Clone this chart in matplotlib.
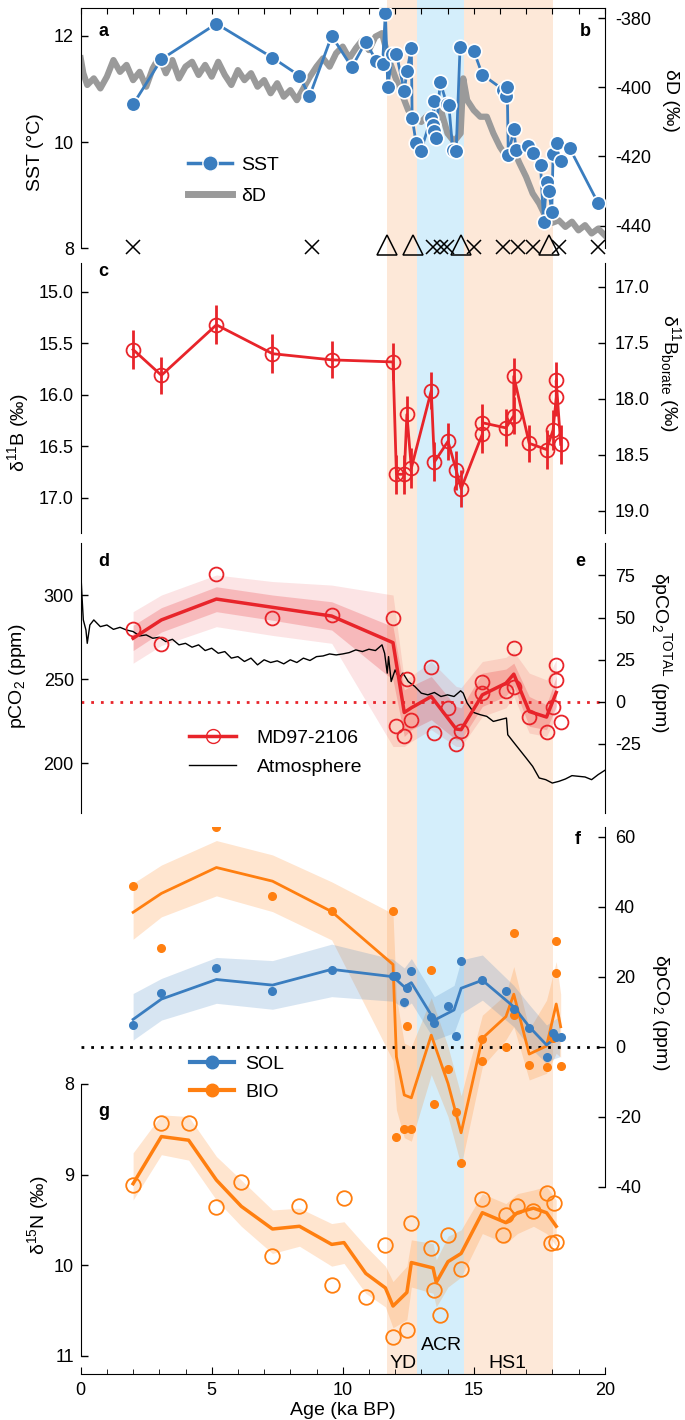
import numpy as np
import matplotlib
matplotlib.use("Agg")
import matplotlib.pyplot as plt
from matplotlib.lines import Line2D
from matplotlib.ticker import FormatStrFormatter

plt.rcParams['font.family'] = ['Liberation Sans', 'DejaVu Sans']
plt.rcParams['mathtext.fontset'] = 'custom'
plt.rcParams['mathtext.rm'] = 'Liberation Sans'
plt.rcParams['mathtext.it'] = 'Liberation Sans:italic'
plt.rcParams['mathtext.bf'] = 'Liberation Sans:bold'
plt.rcParams['axes.unicode_minus'] = False

# ---------------- data ----------------
# a: SST
sst_age = [2.0, 3.08, 5.18, 7.32, 8.35, 8.73, 9.58, 10.35, 10.88, 11.28, 11.52, 11.63, 11.72, 11.9,
           12.05, 12.35, 12.45, 12.62, 12.65, 12.8, 12.98, 13.38, 13.45, 13.48, 13.5, 13.55, 13.72,
           13.98, 14.05, 14.2, 14.33, 14.48, 15.0, 15.33, 16.12, 16.23, 16.28, 16.32, 16.53, 16.62,
           17.07, 17.28, 17.55, 17.67, 17.78, 17.87, 17.98, 18.03, 18.17, 18.33, 18.67, 19.75]
sst = [10.71, 11.56, 12.23, 11.59, 11.25, 10.86, 12.0, 11.41, 11.89, 11.53, 11.47, 12.44, 11.04, 11.66,
       11.66, 10.96, 11.33, 11.77, 10.46, 9.99, 9.83, 10.46, 10.33, 10.77, 10.21, 10.08, 11.13,
       10.71, 10.7, 9.86, 9.83, 11.8, 11.72, 11.27, 10.99, 10.86, 11.04, 9.75, 10.24, 9.85,
       9.93, 9.79, 9.57, 8.49, 9.24, 9.08, 8.69, 9.77, 9.98, 9.64, 9.88, 8.85]

# b: dD ice core
dd_age = [0.0, 0.1, 0.25, 0.5, 0.75, 1.0, 1.25, 1.5, 1.75, 2.0, 2.25, 2.5, 2.75, 3.0, 3.25, 3.5,
          3.75, 4.0, 4.25, 4.5, 4.75, 5.0, 5.25, 5.5, 5.75, 6.0, 6.25, 6.5, 6.75, 7.0, 7.25, 7.5,
          7.75, 8.0, 8.25, 8.5, 8.75, 9.0, 9.25, 9.5, 9.75, 10.0, 10.25, 10.5, 10.75, 11.0, 11.25,
          11.5, 11.75, 12.0, 12.25, 12.5, 12.75, 13.0, 13.25, 13.5, 13.75, 14.0, 14.25, 14.5, 14.6,
          14.75, 15.0, 15.25, 15.5, 15.75, 16.0, 16.25, 16.5, 16.75, 17.0, 17.25, 17.5, 17.75, 18.0,
          18.25, 18.5, 18.75, 19.0, 19.25, 19.5, 19.75, 20.0]
dd = [-391.6, -395.9, -399.3, -397.4, -400.3, -396.9, -392.1, -395.5, -393.5, -397.9, -395.5,
      -399.8, -394.5, -391.1, -395.9, -392.1, -397.4, -394.0, -392.6, -396.4, -393.5, -396.9,
      -392.6, -396.4, -399.3, -395.0, -397.9, -395.9, -399.8, -397.9, -401.7, -398.8, -402.7,
      -400.8, -403.7, -400.3, -396.9, -394.0, -391.6, -394.0, -390.1, -388.2, -391.6, -388.7,
      -386.3, -389.2, -385.3, -384.3, -391.6, -396.9, -401.7, -406.6, -409.0, -410.0, -408.0,
      -411.4, -406.6, -413.3, -415.7, -413.3, -397.4, -403.7, -406.6, -408.5, -408.5, -413.3,
      -417.2, -420.1, -417.7, -422.0, -425.9, -430.7, -433.6, -437.5, -439.2, -438.5, -440.4,
      -438.9, -441.4, -439.9, -442.3, -440.9, -442.8]

cross_age = [2.0, 8.83, 13.45, 13.75, 13.98, 15.03, 16.12, 16.7, 17.28, 18.25, 19.75]
tri_age = [11.7, 12.7, 14.5, 17.87]

# c: d11B
b_age = [2.0, 3.08, 5.18, 7.32, 9.58, 11.92, 12.05, 12.35, 12.45, 12.62, 13.38, 13.5, 14.02,
         14.33, 14.52, 15.33, 15.33, 16.23, 16.53, 16.53, 17.12, 17.78, 18.03, 18.15, 18.15, 18.32]
d11b = [15.56, 15.81, 15.32, 15.60, 15.66, 15.68, 16.77, 16.77, 16.19, 16.71, 15.96, 16.65, 16.45,
        16.73, 16.91, 16.38, 16.27, 16.32, 16.20, 15.82, 16.47, 16.53, 16.34, 16.02, 15.86, 16.48]
d11b_err = [0.19, 0.18, 0.19, 0.19, 0.18, 0.18, 0.19, 0.19, 0.18, 0.19, 0.18, 0.19, 0.18,
            0.19, 0.18, 0.18, 0.18, 0.18, 0.18, 0.18, 0.18, 0.19, 0.19, 0.18, 0.18, 0.19]

# d: pCO2
pco2 = [279.8, 270.8, 312.3, 286.6, 288.1, 286.2, 221.9, 216.4, 250.2, 225.5, 257.5, 218.0, 232.6,
        211.5, 219.0, 241.7, 248.6, 242.9, 245.1, 268.4, 227.5, 218.6, 233.2, 249.6, 258.5, 224.5]
pl_age = [2.0, 3.08, 5.18, 7.32, 9.58, 11.92, 12.35, 12.62, 13.38, 14.33, 14.52, 15.33, 16.23,
          16.53, 17.12, 17.78, 18.15]
pco2_line = [274.3, 285.2, 297.6, 292.7, 287.5, 271.7, 230.2, 233.0, 239.7, 220.4, 220.0, 240.7,
             247.6, 253.0, 230.8, 227.5, 242.1]
pco2_o_hi = [290.1, 300.0, 311.9, 308.0, 305.9, 300.0, 249.6, 252.0, 260.5, 245.7, 245.0, 260.5,
             263.0, 266.4, 253.6, 249.6, 261.5]
pco2_o_lo = [259.5, 270.0, 281.2, 276.0, 271.3, 210.0, 210.0, 213.0, 220.0, 210.0, 210.0, 227.9,
             233.0, 239.7, 218.0, 216.0, 227.9]
pco2_i_hi = [282.0, 292.5, 304.9, 300.0, 296.0, 281.2, 243.7, 246.0, 251.6, 233.8, 233.0, 253.6,
             256.0, 259.5, 239.7, 234.8, 251.6]
pco2_i_lo = [267.0, 278.0, 290.1, 285.0, 279.2, 249.6, 216.0, 220.0, 225.9, 214.0, 214.0, 233.8,
             240.0, 245.7, 222.0, 220.0, 233.8]
pco2_zero = 236.6

atm_age = [0.0, 0.05, 0.1, 0.2, 0.25, 0.35, 0.5, 0.75, 1.0, 1.25, 1.5, 1.75, 2.0, 2.25, 2.5, 2.75,
           3.0, 3.25, 3.5, 3.75, 4.0, 4.25, 4.5, 4.75, 5.0, 5.25, 5.5, 5.75, 6.0, 6.25, 6.5, 6.75,
           7.0, 7.25, 7.5, 7.75, 8.0, 8.25, 8.5, 8.75, 9.0, 9.25, 9.5, 9.75, 10.0, 10.25, 10.5,
           10.75, 11.0, 11.25, 11.5, 11.6, 11.7, 11.75, 11.85, 12.0, 12.15, 12.3, 12.5, 12.75, 13.0,
           13.25, 13.5, 13.75, 14.0, 14.25, 14.5, 14.6, 14.75, 15.0, 15.25, 15.5, 15.75, 16.0,
           16.25, 16.3, 16.5, 16.75, 17.0, 17.25, 17.5, 17.75, 18.0, 18.25, 18.5, 18.75, 19.0,
           19.25, 19.5, 19.75, 20.0]
atm = [314.8, 299.0, 285.2, 279.2, 271.3, 282.2, 285.2, 281.2, 282.2, 279.6, 280.8, 279.2, 278.3,
       275.7, 276.3, 274.3, 274.9, 272.3, 273.7, 270.4, 271.3, 269.0, 270.4, 267.0, 268.4, 265.4,
       266.4, 262.5, 263.4, 260.5, 262.5, 258.5, 261.5, 259.9, 260.9, 259.1, 261.5, 259.9, 262.5,
       261.1, 263.4, 263.8, 265.0, 264.4, 265.0, 265.8, 267.4, 266.4, 267.8, 267.0, 270.4, 265.4,
       253.6, 263.4, 248.6, 255.5, 250.6, 253.6, 248.6, 245.7, 241.7, 240.7, 242.1, 239.7, 240.7,
       239.7, 243.1, 241.7, 235.8, 230.2, 228.9, 227.9, 224.9, 225.9, 226.9, 217.0, 213.0, 208.1,
       203.2, 198.2, 191.3, 190.3, 188.3, 189.3, 190.7, 192.7, 192.3, 191.9, 190.3, 193.3, 195.8]

# f: SOL / BIO
sol_age = [2.0, 3.08, 5.18, 7.32, 9.58, 11.92, 12.05, 12.35, 12.45, 12.62, 13.38, 13.5, 14.02,
           14.33, 14.52, 15.33, 16.23, 16.53, 17.12, 17.78, 18.03, 18.15, 18.32]
sol = [6.2, 15.4, 22.6, 16.0, 21.9, 20.3, 20.3, 12.7, 16.9, 21.7, 8.4, 6.7, 11.7, 3.0, 24.6, 19.0,
       16.0, 10.7, 5.4, -2.9, 4.0, 2.9, 2.9]
sol_l_age = [2.0, 3.08, 5.18, 7.32, 9.58, 11.92, 12.35, 12.62, 13.5, 14.25, 14.52, 15.33, 16.53,
             17.12, 17.78, 18.03, 18.28]
sol_line = [7.8, 13.6, 19.2, 17.6, 22.1, 20.0, 17.1, 18.3, 7.6, 10.5, 16.7, 19.0, 11.4, 5.7, 0.5,
            1.9, 2.7]
sol_hi = [15.2, 19.5, 25.5, 24.6, 29.3, 25.0, 22.5, 25.2, 14.3, 17.5, 24.8, 26.2, 17.5, 12.0, 6.2,
          7.5, 8.6]
sol_lo = [1.9, 7.6, 12.4, 10.7, 14.3, 13.0, 11.0, 12.5, 1.9, 4.0, 9.5, 13.3, 5.7, 0.0, -4.8, -3.5,
          -2.9]

bio = [46.0, 28.3, 62.9, 43.1, 38.8, 38.8, -25.9, -23.5, 6.0, -23.5, 21.9, -16.4, -6.5, -18.6,
       -33.3, 2.1, -4.1, -0.2, 9.0, 32.6, -5.2, -5.9, 2.4, 21.0, 30.3, -5.4]
bio_l_age = [2.0, 3.08, 5.18, 7.32, 9.58, 11.92, 12.05, 12.35, 12.62, 13.38, 14.02, 14.52, 15.33,
             16.23, 16.53, 17.12, 17.78, 18.15, 18.32]
bio_line = [38.4, 43.8, 51.2, 47.3, 38.6, 23.5, -2.9, -13.8, -14.6, 3.3, -10.5, -24.6, 2.4, 8.6,
            15.0, -2.1, 0.2, 12.2, 5.7]
bio_hi = [46.7, 51.9, 58.9, 54.8, 47.1, 38.0, 14.0, 1.0, 0.0, 14.0, 0.0, -14.0, 9.0, 15.0, 22.9,
          5.0, 13.3, 24.3, 15.0]
bio_lo = [30.7, 37.1, 43.1, 38.6, 30.5, -4.0, -18.0, -26.0, -27.0, -8.0, -20.0, -34.0, -5.7, 2.0,
          5.7, -9.5, -7.6, -1.9, -3.0]

# g: d15N
n_age = [2.0, 3.08, 4.12, 5.18, 6.13, 7.32, 8.35, 9.58, 10.05, 10.88, 11.63, 11.92, 12.45, 12.62,
         13.38, 13.5, 13.72, 14.02, 14.52, 15.33, 16.12, 16.23, 16.67, 17.28, 17.78, 17.95, 18.08,
         18.15]
d15n = [9.11, 8.43, 8.43, 9.36, 9.08, 9.90, 9.35, 10.22, 9.26, 10.35, 9.78, 10.79, 10.71, 9.53,
        9.81, 10.27, 10.55, 9.67, 10.04, 9.27, 9.67, 9.45, 9.35, 9.40, 9.20, 9.75, 9.31, 9.74]
nl_age = [2.0, 3.08, 4.12, 5.18, 6.13, 7.32, 8.35, 9.58, 10.05, 10.88, 11.63, 11.92, 12.45, 12.62,
          13.45, 13.57, 14.02, 14.52, 15.33, 16.23, 16.67, 17.28, 17.78, 18.15]
d15n_line = [9.10, 8.58, 8.62, 9.06, 9.35, 9.60, 9.57, 9.77, 9.75, 10.09, 10.25, 10.45, 10.30,
             9.97, 10.03, 10.19, 9.96, 9.87, 9.42, 9.53, 9.42, 9.37, 9.42, 9.57]
d15n_lo = [8.76, 8.34, 8.36, 8.80, 9.06, 9.39, 9.37, 9.54, 9.52, 9.79, 10.01, 10.18, 10.01, 9.72,
           9.76, 9.94, 9.68, 9.61, 9.21, 9.32, 9.21, 9.17, 9.13, 9.28]
d15n_hi = [9.28, 8.78, 8.84, 9.28, 9.57, 9.87, 9.79, 10.01, 9.98, 10.31, 10.46, 10.69, 10.60,
           10.24, 10.31, 10.46, 10.24, 10.13, 9.65, 9.76, 9.65, 9.57, 9.65, 9.79]

periods = [("YD", 11.68, 12.82), ("ACR", 12.82, 14.63), ("HS1", 14.63, 18.02)]
period_col = {"YD": "#fde8d8", "ACR": "#d4eefb", "HS1": "#fde8d8"}

# ---------------- style ----------------
BLUE = "#3a7dbf"
GREY = "#9a9a9a"
RED = "#e8242a"
ORANGE = "#ff7f10"
TK = 13    # tick labels
LB = 14    # axis labels / legends

W, H = 685, 1420
X0, X1 = 80.7, 604.7
fig = plt.figure(figsize=(W / 100, H / 100), dpi=100)


def box(top, bot):
    return [X0 / W, 1 - bot / H, (X1 - X0) / W, (bot - top) / H]


def ftext(px, py, s, **kw):
    fig.text(px / W, 1 - py / H, s, **kw)


def clean(ax, keep):
    for k, sp in ax.spines.items():
        sp.set_visible(k in keep)
    ax.patch.set_visible(False)
    ax.set_xlim(0, 20)


def yticks_in(ax, side):
    ax.tick_params(axis='y', which='both', direction='in', length=5, width=1,
                   pad=5 if side == 'left' else 7.5,
                   labelsize=TK, left=(side == 'left'), right=(side == 'right'),
                   labelleft=(side == 'left'), labelright=(side == 'right'))


# background bands
bg = fig.add_axes(box(0, 1374), zorder=0)
bg.set_xlim(0, 20)
bg.set_ylim(0, 1)
bg.axis('off')
for name, a0, a1 in periods:
    bg.axvspan(a0, a1, color=period_col[name], lw=0)

# ---- panel a / b ----
ax_a = fig.add_axes(box(8.3, 248.3), zorder=3)
ax_b = ax_a.twinx()
ax_b.set_zorder(2)
clean(ax_a, ['left', 'top'])
clean(ax_b, ['right'])
ax_b.plot(dd_age, dd, color=GREY, lw=4.5, solid_joinstyle='round')
ax_a.plot(sst_age, sst, color=BLUE, lw=2, marker='o', ms=10.5, mfc=BLUE, mec='white', mew=1.2,
          zorder=4)
ax_a.plot(cross_age, np.full(len(cross_age), 8.03), ls='none', marker='x', ms=10, mec='black',
          mew=1.1, clip_on=False, zorder=5)
ax_a.plot(tri_age, np.full(len(tri_age), 8.07), ls='none', marker='^', ms=15, mfc='none',
          mec='black', mew=1.1, clip_on=False, zorder=5)
ax_a.set_ylim(8, 12.52)
ax_b.set_ylim(-446.6, -377.1)
ax_a.set_yticks([8, 10, 12])
ax_b.set_yticks([-440, -420, -400, -380])
yticks_in(ax_a, 'left')
yticks_in(ax_b, 'right')
ax_a.xaxis.set_ticks_position('top')
ax_a.set_xticks(range(0, 21))
ax_a.tick_params(axis='x', direction='in', length=4, labeltop=False, labelbottom=False)
ax_a.legend([Line2D([], [], color=BLUE, lw=2.5, marker='o', ms=11, mfc=BLUE, mec='white'),
             Line2D([], [], color=GREY, lw=5)], ["SST", "δD"],
            loc='upper left', bbox_to_anchor=(0.205, 0.385), frameon=False, fontsize=LB,
            handlelength=2.27, handletextpad=0.45, labelspacing=0.7, borderpad=0,
            borderaxespad=0)

# ---- panel c ----
ax_c = fig.add_axes(box(263, 533), zorder=3)
ax_c2 = ax_c.twinx()
clean(ax_c, ['left'])
clean(ax_c2, ['right'])
ax_c.errorbar(b_age, d11b, yerr=d11b_err, fmt='none', ecolor=RED, elinewidth=2, capsize=0)
ax_c.plot(b_age, d11b, color=RED, lw=2, marker='o', ms=10, mfc='none', mec=RED, mew=1.3)
ax_c.set_ylim(17.34, 14.72)
ax_c2.set_ylim(19.2, 16.79)
ax_c.set_yticks([15.0, 15.5, 16.0, 16.5, 17.0])
ax_c2.set_yticks([17.0, 17.5, 18.0, 18.5, 19.0])
ax_c.yaxis.set_major_formatter(FormatStrFormatter('%.1f'))
ax_c2.yaxis.set_major_formatter(FormatStrFormatter('%.1f'))
yticks_in(ax_c, 'left')
yticks_in(ax_c2, 'right')
ax_c.set_xticks([])

# ---- panel d / e ----
ax_d = fig.add_axes(box(543, 813), zorder=3)
ax_e = ax_d.twinx()
clean(ax_d, ['left'])
clean(ax_e, ['right'])
ax_d.fill_between(pl_age, pco2_o_lo, pco2_o_hi, color=RED, alpha=0.12, lw=0)
ax_d.fill_between(pl_age, pco2_i_lo, pco2_i_hi, color=RED, alpha=0.22, lw=0)
ax_d.axhline(pco2_zero, color=RED, lw=2, ls=(0, (1, 2.5)))
ax_d.plot(atm_age, atm, color='black', lw=1)
ax_d.plot(pl_age, pco2_line, color=RED, lw=2.5)
ax_d.plot(b_age, pco2, ls='none', marker='o', ms=10, mfc='none', mec=RED, mew=1.3)
ax_d.set_ylim(170.5, 330.9)
ax_e.set_ylim(170.5 - pco2_zero, 330.9 - pco2_zero)
ax_d.set_yticks([200, 250, 300])
ax_e.set_yticks([-25, 0, 25, 50, 75])
yticks_in(ax_d, 'left')
yticks_in(ax_e, 'right')
ax_d.set_xticks([])
ax_d.legend([Line2D([], [], color=RED, lw=2.5, marker='o', ms=10, mfc='none', mec=RED),
             Line2D([], [], color='black', lw=1)], ["MD97-2106", "Atmosphere"],
            loc='upper left', bbox_to_anchor=(0.207, 0.311), frameon=False, fontsize=LB,
            handlelength=2.4, handletextpad=1.08, labelspacing=0.6, borderpad=0, borderaxespad=0)

# ---- panel f ----
ax_f = fig.add_axes(box(826.7, 1186.7), zorder=4)
clean(ax_f, ['right'])
ax_f.fill_between(bio_l_age, bio_lo, bio_hi, color=ORANGE, alpha=0.2, lw=0)
ax_f.fill_between(sol_l_age, sol_lo, sol_hi, color=BLUE, alpha=0.2, lw=0)
ax_f.axhline(0, color='black', lw=2, ls=(0, (1, 2.5)))
ax_f.plot(bio_l_age, bio_line, color=ORANGE, lw=2)
ax_f.plot(sol_l_age, sol_line, color=BLUE, lw=2)
ax_f.plot(b_age, bio, ls='none', marker='o', ms=5.5, color=ORANGE)
ax_f.plot(sol_age, sol, ls='none', marker='o', ms=5.5, color=BLUE)
ax_f.set_ylim(-40, 62.86)
ax_f.yaxis.set_ticks_position('right')
ax_f.set_yticks([-40, -20, 0, 20, 40, 60])
yticks_in(ax_f, 'right')
ax_f.spines['right'].set_bounds(-40, 62.86)
ax_f.set_xticks([])
ax_f.legend([Line2D([], [], color=BLUE, lw=3, marker='o', ms=9),
             Line2D([], [], color=ORANGE, lw=3, marker='o', ms=9)], ["SOL", "BIO"],
            loc='upper left', bbox_to_anchor=(0.208, 0.364), frameon=False, fontsize=LB,
            handlelength=2.27, handletextpad=0.6, labelspacing=0.5, borderpad=0, borderaxespad=0)

# ---- panel g ----
ax_g = fig.add_axes(box(1084, 1374), zorder=3)
clean(ax_g, ['left', 'bottom'])
ax_g.fill_between(nl_age, d15n_lo, d15n_hi, color=ORANGE, alpha=0.2, lw=0)
ax_g.plot(nl_age, d15n_line, color=ORANGE, lw=2.5)
ax_g.plot(n_age, d15n, ls='none', marker='o', ms=10.5, mfc='none', mec=ORANGE, mew=1.3)
ax_g.set_ylim(11.2, 8)
ax_g.spines['left'].set_bounds(8, 11)
ax_g.set_yticks([8, 9, 10, 11])
yticks_in(ax_g, 'left')
ax_g.set_xticks([0, 5, 10, 15, 20])
ax_g.set_xticks(range(0, 21), minor=True)
ax_g.tick_params(axis='x', which='major', direction='in', length=5, labelsize=TK, pad=6)
ax_g.tick_params(axis='x', which='minor', direction='in', length=3.5)
ax_g.set_xlabel("Age (ka BP)", fontsize=LB, labelpad=2)
for name, a0, a1 in periods:
    yy = 10.88 if name == "ACR" else 11.08
    ax_g.text((a0 + a1) / 2 + (0.05 if name != "HS1" else -0.05), yy, name, ha='center',
              va='center', fontsize=LB)

# ---- labels ----
for s, px, py in [("a", 103.5, 31), ("b", 585, 31), ("c", 103.5, 271), ("d", 103.5, 561),
                  ("e", 580.6, 562), ("f", 578, 839), ("g", 103.5, 1111)]:
    ftext(px, py, s, fontsize=13, fontweight='bold', ha='center', va='center')

ftext(36, 152, "SST (°C)", rotation=90, ha='center', va='center', fontsize=LB)
ftext(671, 100, "δD (‰)", rotation=270, ha='center', va='center', fontsize=LB)
ftext(18, 433, "δ$^{11}$B (‰)", rotation=90, ha='center', va='center', fontsize=LB)
ftext(670, 373, "δ$^{11}$B$_{\\mathrm{borate}}$ (‰)", rotation=270, ha='center', va='center',
      fontsize=LB)
ftext(18, 676, "pCO$_2$ (ppm)", rotation=90, ha='center', va='center', fontsize=LB)
ftext(661, 653, "δpCO$_2$$^{\\mathrm{TOTAL}}$ (ppm)", rotation=270, ha='center', va='center',
      fontsize=LB)
ftext(660, 1012, "δpCO$_2$ (ppm)", rotation=270, ha='center', va='center', fontsize=LB)
ftext(38, 1215, "δ$^{15}$N (‰)", rotation=90, ha='center', va='center', fontsize=LB)

fig.savefig("out.png", dpi=100)
